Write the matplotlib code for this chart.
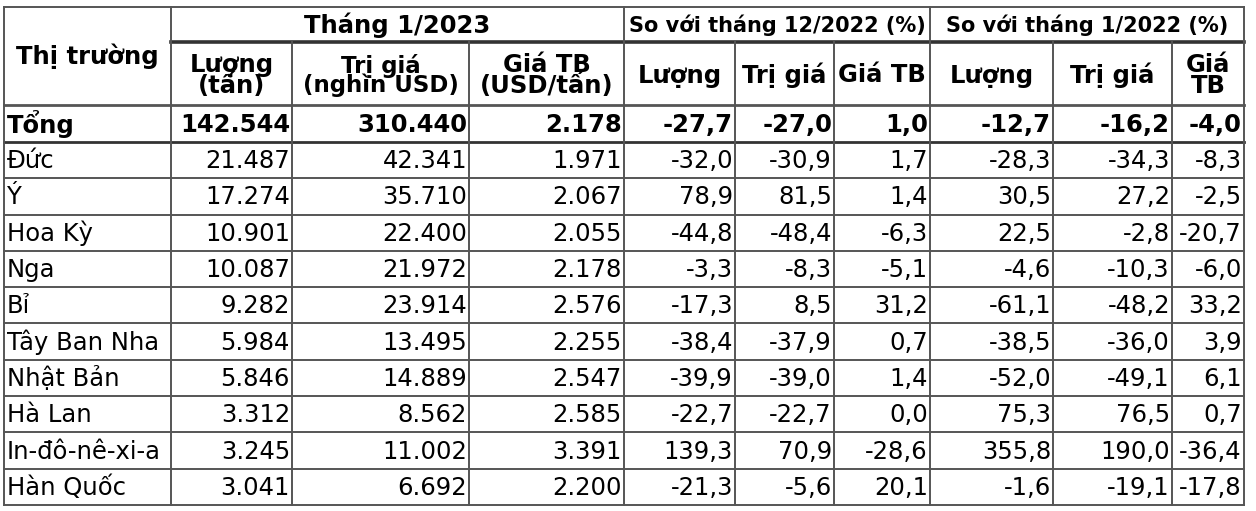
import matplotlib
matplotlib.use("Agg")
import matplotlib.pyplot as plt

markets = ["Tổng", "Đức", "Ý", "Hoa Kỳ", "Nga", "Bỉ", "Tây Ban Nha", "Nhật Bản",
           "Hà Lan", "In-đô-nê-xi-a", "Hàn Quốc"]
luong = ["142.544", "21.487", "17.274", "10.901", "10.087", "9.282", "5.984", "5.846",
         "3.312", "3.245", "3.041"]
tri_gia = ["310.440", "42.341", "35.710", "22.400", "21.972", "23.914", "13.495", "14.889",
           "8.562", "11.002", "6.692"]
gia_tb = ["2.178", "1.971", "2.067", "2.055", "2.178", "2.576", "2.255", "2.547",
          "2.585", "3.391", "2.200"]
vs12_luong = ["-27,7", "-32,0", "78,9", "-44,8", "-3,3", "-17,3", "-38,4", "-39,9",
              "-22,7", "139,3", "-21,3"]
vs12_tri = ["-27,0", "-30,9", "81,5", "-48,4", "-8,3", "8,5", "-37,9", "-39,0",
            "-22,7", "70,9", "-5,6"]
vs12_gia = ["1,0", "1,7", "1,4", "-6,3", "-5,1", "31,2", "0,7", "1,4",
            "0,0", "-28,6", "20,1"]
vs1_luong = ["-12,7", "-28,3", "30,5", "22,5", "-4,6", "-61,1", "-38,5", "-52,0",
             "75,3", "355,8", "-1,6"]
vs1_tri = ["-16,2", "-34,3", "27,2", "-2,8", "-10,3", "-48,2", "-36,0", "-49,1",
           "76,5", "190,0", "-19,1"]
vs1_gia = ["-4,0", "-8,3", "-2,5", "-20,7", "-6,0", "33,2", "3,9", "6,1",
           "0,7", "-36,4", "-17,8"]

groups = ["Tháng 1/2023", "So với tháng 12/2022 (%)", "So với tháng 1/2022 (%)"]
subheads = ["Lượng\n(tấn)", "Trị giá\n(nghìn USD)", "Giá TB\n(USD/tấn)",
            "Lượng", "Trị giá", "Giá TB", "Lượng", "Trị giá", "Giá\nTB"]

cols = [markets, luong, tri_gia, gia_tb, vs12_luong, vs12_tri, vs12_gia,
        vs1_luong, vs1_tri, vs1_gia]

xs = [4, 171, 292, 469, 624, 735, 834, 930, 1053, 1172, 1244]
y_top, y_mid, y_head = 7, 42, 105
row_h = (505 - 142) / 10
ys = [y_head, 142] + [142 + row_h * i for i in range(1, 11)]

fig = plt.figure(figsize=(12.56, 5.11), dpi=100)
ax = fig.add_axes([0, 0, 1, 1])
ax.set_xlim(0, 1256)
ax.set_ylim(511, 0)
ax.axis("off")

lc = "#555555"
lw = 1.4
# outer and horizontal lines
ax.plot([xs[0], xs[-1]], [y_top, y_top], color=lc, lw=lw)
ax.plot([xs[1], xs[-1]], [y_mid, y_mid], color="#333333", lw=2.6)
for i, y in enumerate(ys):
    ax.plot([xs[0], xs[-1]], [y, y], color=lc if i != 1 else "#333333",
            lw=lw if i not in (0, 1) else 2.0)
# vertical lines
for j, x in enumerate(xs):
    if j in (0, 1, 4, 7, 10):
        ax.plot([x, x], [y_top, ys[-1]], color=lc, lw=lw)
    else:
        ax.plot([x, x], [y_mid, ys[-1]], color=lc, lw=lw)

fs = 17.5
ax.text((xs[0] + xs[1]) / 2, 56, "Thị trường", ha="center",
        va="center", fontsize=fs, fontweight="bold")
for g, name in enumerate(groups):
    x0, x1 = xs[1 + 3 * g], xs[4 + 3 * g]
    ax.text((x0 + x1) / 2, (y_top + y_mid) / 2 + 1, name, ha="center", va="center",
            fontsize=fs if g == 0 else 15, fontweight="bold")
for k, h in enumerate(subheads):
    x0, x1 = xs[1 + k], xs[2 + k]
    ax.text((x0 + x1) / 2, (y_mid + y_head) / 2 + 2, h, ha="center", va="center",
            fontsize=fs if k != 1 else 16.5, fontweight="bold", linespacing=0.8)

for r in range(11):
    yc = (ys[r] + ys[r + 1]) / 2 + 1
    bold = "bold" if r == 0 else "normal"
    for c, col in enumerate(cols):
        if c == 0:
            ax.text(xs[0] + 3, yc, col[r], ha="left", va="center", fontsize=fs,
                    fontweight=bold)
        else:
            ax.text(xs[c + 1] - 2, yc, col[r], ha="right", va="center", fontsize=fs,
                    fontweight=bold)

fig.savefig("out.png", dpi=100)
